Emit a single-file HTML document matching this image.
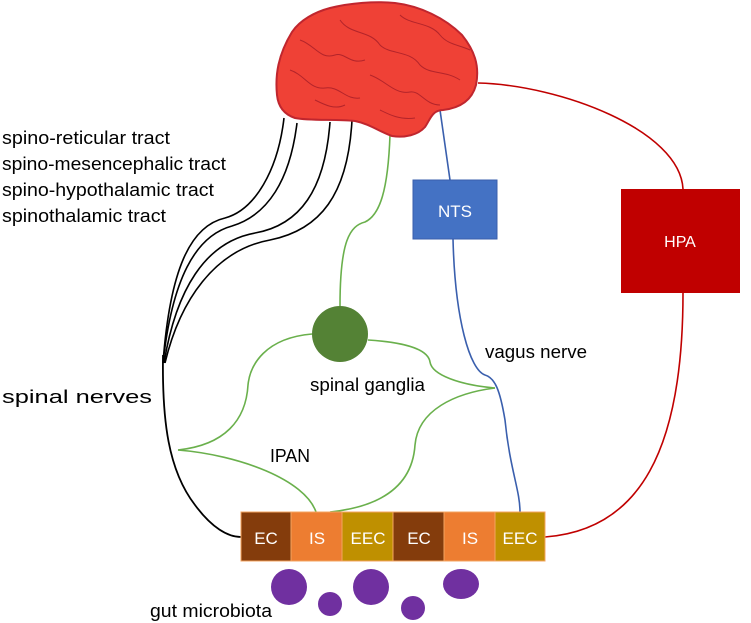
<!DOCTYPE html>
<html><head><style>body{margin:0;background:#fff}svg{display:block}text{font-family:"Liberation Sans",sans-serif}</style></head><body>
<svg width="751" height="623" viewBox="0 0 751 623">
<g fill="none" stroke-width="1.6">
<path d="M284,118 C278,170 255,210 225,218 C190,226 170,270 163,363" stroke="#000"/>
<path d="M297,123 C290,180 268,215 232,226 C195,236 172,280 163,363" stroke="#000"/>
<path d="M330,122 C325,190 300,225 255,233 C205,242 176,290 164,363" stroke="#000"/>
<path d="M352,120 C348,195 320,230 270,240 C215,250 180,300 165,363" stroke="#000"/>
<path d="M163,355 C162,420 168,470 195,505 C212,528 228,537 241,537" stroke="#000" stroke-width="1.8"/>
<path d="M390,135 C388,190 380,215 365,222 C350,226 340,240 340,306" stroke="#6ab04c"/>
<path d="M312,334 C265,338 250,365 248,385 C246,420 225,445 178,450" stroke="#6ab04c"/>
<path d="M178,450 C240,455 305,480 316,512" stroke="#6ab04c"/>
<path d="M368,340 C400,342 428,348 430,362 C432,375 460,385 495,388" stroke="#6ab04c"/>
<path d="M495,388 C455,393 418,410 415,445 C413,475 395,505 330,512" stroke="#6ab04c"/>
<path d="M440,110 L450,180" stroke="#3a5fad"/>
<path d="M453,239 C455,320 470,370 485,375 C495,378 500,390 505,420 C510,470 520,490 520,512" stroke="#3a5fad"/>
<path d="M478,83 C560,85 680,130 683,189" stroke="#c00000"/>
<path d="M683,293 C683,450 640,530 545,537" stroke="#c00000"/>
</g>
<g>
<path d="M277,95 C275,75 278,55 292,32 C300,20 315,12 330,8 C350,3 375,1 395,3 C420,6 445,18 462,35 C474,50 480,65 476,85 C472,100 460,108 443,110 C432,110 430,120 425,127 C418,135 405,138 392,136 C380,132 370,124 355,121 C335,119 310,121 295,118 C283,114 278,105 277,95 Z" fill="#ef4136" stroke="#c0262e" stroke-width="2"/>
<g fill="none" stroke="#b3242a" stroke-width="1">
<path d="M300,40 C315,45 320,60 335,55 C345,52 350,65 365,60"/>
<path d="M340,20 C350,35 370,30 380,45 C390,55 410,50 420,65 C430,75 445,70 460,80"/>
<path d="M290,70 C305,75 310,90 325,88 C340,86 345,100 360,98"/>
<path d="M370,75 C385,80 395,95 410,92 C420,90 425,105 440,105"/>
<path d="M400,15 C410,25 430,22 440,35 C448,45 460,45 470,50"/>
<path d="M315,100 C325,105 335,110 345,105"/>
<path d="M380,110 C390,115 400,120 415,118"/>
</g>
</g>
<rect x="413" y="180" width="84" height="59" fill="#4472c4" stroke="#3a5fad"/>
<text x="455" y="217" font-size="17" fill="#fff" text-anchor="middle">NTS</text>
<rect x="621" y="189" width="119" height="104" fill="#c00000"/>
<text x="680" y="247" font-size="16" fill="#fff" text-anchor="middle">HPA</text>
<circle cx="340" cy="334" r="28" fill="#548235"/>
<g stroke="#f4a460" stroke-width="1">
<rect x="241" y="512" width="50" height="49" fill="#843c0c"/>
<rect x="291" y="512" width="51" height="49" fill="#ed7d31"/>
<rect x="342" y="512" width="51" height="49" fill="#bf9000"/>
<rect x="393" y="512" width="51" height="49" fill="#843c0c"/>
<rect x="444" y="512" width="51" height="49" fill="#ed7d31"/>
<rect x="495" y="512" width="50" height="49" fill="#bf9000"/>
</g>
<g fill="#fff" font-size="17" text-anchor="middle">
<text x="266" y="544">EC</text><text x="317" y="544">IS</text><text x="368" y="544">EEC</text>
<text x="419" y="544">EC</text><text x="470" y="544">IS</text><text x="520" y="544">EEC</text>
</g>
<g fill="#7030a0">
<circle cx="289" cy="587" r="18"/><circle cx="330" cy="604" r="12"/>
<circle cx="371" cy="587" r="18"/><circle cx="413" cy="608" r="12"/>
<ellipse cx="461" cy="584" rx="18" ry="15"/>
</g>
<g font-size="18.5" fill="#000">
<text x="2" y="144" textLength="168" lengthAdjust="spacingAndGlyphs">spino-reticular tract</text>
<text x="2" y="170" textLength="224" lengthAdjust="spacingAndGlyphs">spino-mesencephalic tract</text>
<text x="2" y="196" textLength="212" lengthAdjust="spacingAndGlyphs">spino-hypothalamic tract</text>
<text x="2" y="222" textLength="164" lengthAdjust="spacingAndGlyphs">spinothalamic tract</text>
<text x="2" y="403" textLength="150" lengthAdjust="spacingAndGlyphs">spinal nerves</text>
<text x="310" y="391" textLength="115" lengthAdjust="spacingAndGlyphs">spinal ganglia</text>
<text x="270" y="462" textLength="40" lengthAdjust="spacingAndGlyphs">IPAN</text>
<text x="485" y="358" textLength="102" lengthAdjust="spacingAndGlyphs">vagus nerve</text>
<text x="150" y="617" textLength="122" lengthAdjust="spacingAndGlyphs">gut microbiota</text>
</g>
</svg>
</body></html>
